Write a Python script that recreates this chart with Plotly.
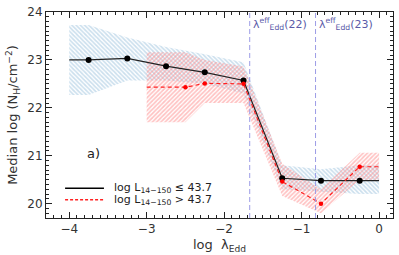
import plotly.graph_objects as go

# ---- data ----
bin_lo_x = [-3.75, -3.25, -2.75, -2.25, -1.75, -1.25, -0.75, -0.25]
nh_lo = [23.0, 23.03, 22.87, 22.74, 22.57, 20.53, 20.48, 20.48]
lo_edges = [-4.0, 0.0]

bin_hi_x = [-2.5, -2.25, -1.75, -1.25, -0.75, -0.25]
nh_hi = [22.43, 22.51, 22.5, 20.46, 20.0, 20.77]
hi_edges = [-3.0, 0.0]

band_lo_x = [-4.0, -3.75, -3.25, -2.75, -2.25, -1.75, -1.25, -0.75, -0.25, 0.0]
band_lo_upper = [23.73, 23.73, 23.47, 23.27, 23.12, 22.95, 20.8, 20.72, 20.8, 20.8]
band_lo_lower = [22.27, 22.27, 22.57, 22.57, 22.5, 22.3, 20.3, 20.25, 20.2, 20.2]

band_hi_x = [-3.0, -2.5, -2.25, -1.75, -1.25, -0.75, -0.25, 0.0]
band_hi_upper = [23.16, 23.16, 23.0, 22.86, 20.83, 20.3, 21.06, 21.06]
band_hi_lower = [21.7, 21.7, 22.1, 22.1, 20.16, 19.8, 20.5, 20.5]

lam_eff = [-1.67, -0.82]
lam_labels = ["22", "23"]

legend_labels = ["log L<sub>14−150</sub> ≤ 43.7", "log L<sub>14−150</sub> > 43.7"]

FONT = "DejaVu Sans"
BLUE = "#98c0dc"
RED = "#ff8585"
PURP = "#5a5aa8"

fig = go.Figure()

# bands
fig.add_trace(go.Scatter(
    x=band_lo_x + band_lo_x[::-1], y=band_lo_upper + band_lo_lower[::-1],
    fill="toself", mode="lines", line=dict(width=0), hoverinfo="skip",
    fillcolor="rgba(0,0,0,0)",
    fillpattern=dict(shape="\\", fgcolor=BLUE, bgcolor="rgba(255,255,255,0)", size=3, solidity=0.55),
    showlegend=False))
fig.add_trace(go.Scatter(
    x=band_hi_x + band_hi_x[::-1], y=band_hi_upper + band_hi_lower[::-1],
    fill="toself", mode="lines", line=dict(width=0), hoverinfo="skip",
    fillcolor="rgba(0,0,0,0)",
    fillpattern=dict(shape="/", fgcolor=RED, bgcolor="rgba(255,255,255,0)", size=3, solidity=0.55),
    showlegend=False))

# lines (extended to bin edges)
fig.add_trace(go.Scatter(
    x=[lo_edges[0]] + bin_lo_x + [lo_edges[1]], y=[nh_lo[0]] + nh_lo + [nh_lo[-1]],
    mode="lines", line=dict(color="#222222", width=1.2), showlegend=False))
fig.add_trace(go.Scatter(
    x=[hi_edges[0]] + bin_hi_x + [hi_edges[1]], y=[nh_hi[0]] + nh_hi + [nh_hi[-1]],
    mode="lines", line=dict(color="#ff2020", width=1.2, dash="4px,3px"), showlegend=False))
fig.add_trace(go.Scatter(
    x=bin_lo_x, y=nh_lo, mode="markers",
    marker=dict(color="black", size=6), showlegend=False))
fig.add_trace(go.Scatter(
    x=bin_hi_x, y=nh_hi, mode="markers",
    marker=dict(color="#ff0000", size=4.5), showlegend=False))

# vertical lines
for xv, lab in zip(lam_eff, lam_labels):
    fig.add_shape(type="line", x0=xv, x1=xv, y0=0, y1=1, xref="x", yref="paper",
                  line=dict(color="#9c9ce6", width=1, dash="5px,3px"))
    fig.add_annotation(x=xv, y=23.76, xref="x", yref="y", xanchor="left", yanchor="middle",
                       xshift=1, showarrow=False,
                       text=f"λ<sup>eff</sup><sub>Edd</sub>({lab})",
                       font=dict(family=FONT, size=11, color=PURP))

# panel label
fig.add_annotation(x=-3.8, y=21.05, xref="x", yref="y", xanchor="left", showarrow=False,
                   text="a)", font=dict(family=FONT, size=13, color="#222"))

# legend (manual)
leg_y = [0.145, 0.089]
leg_style = [dict(color="black", width=1.5), dict(color="#ff2020", width=1.5, dash="3px,2px")]
for yy, lab, st in zip(leg_y, legend_labels, leg_style):
    fig.add_shape(type="line", xref="paper", yref="paper", x0=0.055, x1=0.167, y0=yy, y1=yy, line=st)
    fig.add_annotation(xref="paper", yref="paper", x=0.19, y=yy, xanchor="left", yanchor="middle",
                       showarrow=False, text=lab, font=dict(family=FONT, size=11, color="#222"))

axis_common = dict(showline=True, linecolor="#222", linewidth=1, mirror="allticks",
                   ticks="inside", ticklen=6, tickcolor="#222", showgrid=False, zeroline=False,
                   ticklabeloverflow="allow",
                   tickfont=dict(family=FONT, size=12, color="#333"),
                   minor=dict(ticks="inside", ticklen=3, tickcolor="#222", dtick=0.1, showgrid=False))

fig.update_xaxes(range=[-4.3, 0.18], dtick=1, tick0=0, **axis_common,
                 title=dict(text="log  λ<sub>Edd</sub>", font=dict(family=FONT, size=13, color="#333"), standoff=4))
fig.update_yaxes(range=[19.7, 24.0], dtick=1, tick0=0, **axis_common,
                 title=dict(text="Median log (N<sub>H</sub>/cm<sup>−2</sup>)", font=dict(family=FONT, size=13, color="#333"), standoff=6))

fig.update_layout(width=399, height=255, margin=dict(l=46, r=5, t=5, b=37),
                  plot_bgcolor="white", paper_bgcolor="white")

fig.write_html("out.html", config={"displayModeBar": False},
               post_script="document.body.style.margin='0';document.body.style.padding='0';")
